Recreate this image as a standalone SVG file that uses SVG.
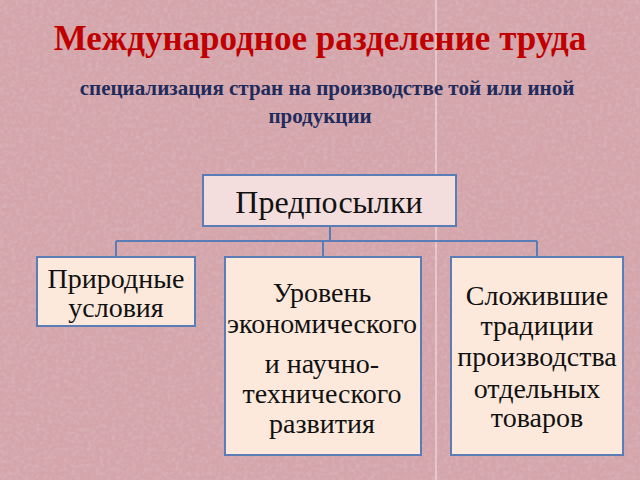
<svg xmlns="http://www.w3.org/2000/svg" width="640" height="480" viewBox="0 0 640 480">
<defs>
<filter id="tex" x="0" y="0" width="100%" height="100%">
<feTurbulence type="fractalNoise" baseFrequency="0.25" numOctaves="2" seed="4" result="n"/>
<feColorMatrix in="n" type="matrix" values="0 0 0 0 1  0 0 0 0 1  0 0 0 0 1  0 0 0 -2.2 1.25" />
</filter>
<style>
.box{stroke:#5b7db5;stroke-width:2}
.t{font-family:"Liberation Serif","Times New Roman",serif;fill:#111;text-anchor:middle}
.con{fill:none;stroke:#5b7db5;stroke-width:2}
</style>
</defs>
<rect width="640" height="480" fill="#d4a6ac"/>
<rect width="640" height="480" filter="url(#tex)" opacity="0.12"/>
<line x1="436" y1="0" x2="436" y2="480" stroke="#f4e4e6" stroke-width="1.5" opacity="0.7"/>
<text x="320" y="50" font-family="'Liberation Serif',serif" font-weight="bold" font-size="35" fill="#c00000" text-anchor="middle">Международное разделение труда</text>
<g font-family="'Liberation Serif',serif" font-weight="bold" font-size="21" fill="#1f2b5c" text-anchor="middle">
<text x="327" y="95">специализация стран на производстве той или иной</text>
<text x="320" y="123">продукции</text>
</g>
<g id="connectors">
<path class="con" d="M330 226V241M116 241H537M116 241V257M323 241V257M537 241V257"/>
</g>
<g id="n0">
<rect class="box" x="203" y="175" width="253" height="51" fill="#f3dddd"/>
<text class="t" x="329" y="213" font-size="32">Предпосылки</text>
</g>
<g id="n1">
<rect class="box" x="37" y="257" width="158" height="69" fill="#fde9dc"/>
<text class="t" x="116" y="288" font-size="28">Природные</text>
<text class="t" x="116" y="317" font-size="28">условия</text>
</g>
<g id="n2">
<rect class="box" x="225" y="257" width="196" height="198" fill="#fde9dc"/>
<g class="t" font-size="28">
<text x="322" y="302">Уровень</text>
<text x="322" y="333">экономического</text>
<text x="322" y="373">и научно-</text>
<text x="322" y="403">технического</text>
<text x="322" y="433">развития</text>
</g>
</g>
<g id="n3">
<rect class="box" x="451" y="257" width="172" height="198" fill="#fde9dc"/>
<g class="t" font-size="28">
<text x="537" y="305">Сложившие</text>
<text x="537" y="335">традиции</text>
<text x="537" y="366">производства</text>
<text x="537" y="398">отдельных</text>
<text x="537" y="427">товаров</text>
</g>
</g>
</svg>
